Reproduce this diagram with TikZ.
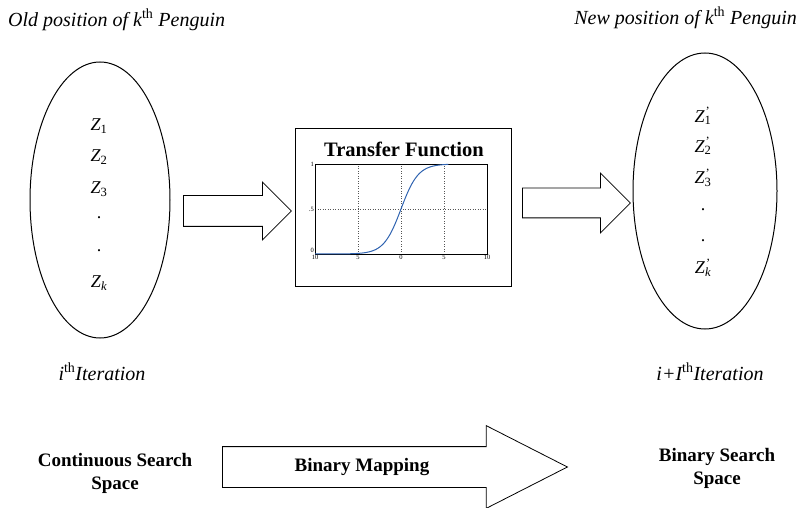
\documentclass[tikz,border=0pt]{standalone}
\usepackage{fontspec}
\setmainfont{Liberation Serif}
\usetikzlibrary{positioning, shapes.geometric, shapes.arrows}
\definecolor{curveblue}{HTML}{2f63b0}
\definecolor{gridgrey}{HTML}{555555}

\begin{document}
\begin{tikzpicture}[
  x=1pt, y=-1pt,
  caption/.style={font=\fontsize{20}{24}\selectfont\itshape, inner sep=0pt},
  heading/.style={font=\fontsize{19}{23}\selectfont\bfseries, align=center,
                  inner sep=0pt},
  zlab/.style={font=\fontsize{18}{20}\selectfont, inner sep=0pt},
  space/.style={ellipse, draw, line width=1pt, minimum width=140pt,
                minimum height=276pt, inner sep=0pt},
  blockarrow/.style={single arrow, draw, line width=0.8pt, inner xsep=0pt,
                     single arrow tip angle=90, anchor=tail},
  tick/.style={font=\fontsize{6.5}{7}\selectfont, inner sep=1pt}
]
\useasboundingbox (0,0) rectangle (804,508);

% Old and new positions
\node[caption, anchor=west] (oldpos) at (8,20)
  {Old position of k\textsuperscript{\upshape th} Penguin};
\node[caption, anchor=east] (newpos) at (797,18)
  {New position of k\textsuperscript{\upshape th} Penguin};

\node[space] (oldspace) at (100,200) {};
\node[space, minimum width=144pt] (newspace) at (705,191) {};

% Components before the mapping
\node[zlab] (z1) at (99,126) {\textit{Z}\textsubscript{1}};
\node[zlab] (z2) at (99,157) {\textit{Z}\textsubscript{2}};
\node[zlab] (z3) at (99,189) {\textit{Z}\textsubscript{3}};
\node[zlab] (zd1) at (99,218) {.};
\node[zlab] (zd2) at (99,251) {.};
\node[zlab] (zk) at (99,283) {\textit{Z}\textsubscript{\itshape k}};

% Components after the mapping
\node[zlab] (nz1) at (703,116) {\textit{Z}\rlap{\textsuperscript{\kern1pt'}}\textsubscript{1}};
\node[zlab] (nz2) at (703,146) {\textit{Z}\rlap{\textsuperscript{\kern1pt'}}\textsubscript{2}};
\node[zlab] (nz3) at (703,178) {\textit{Z}\rlap{\textsuperscript{\kern1pt'}}\textsubscript{3}};
\node[zlab] (nzd1) at (703,210) {.};
\node[zlab] (nzd2) at (703,241) {.};
\node[zlab] (nzk) at (703,268) {\textit{Z}\rlap{\textsuperscript{\kern1pt'}}\textsubscript{\itshape k}};

\node[caption] (iterold) at (102,372)
  {i\textsuperscript{\upshape th}Iteration};
\node[caption] (iternew) at (710,372)
  {i+I\textsuperscript{\upshape th}Iteration};

% Transfer function box
\node[draw, line width=1pt, minimum width=216pt, minimum height=157pt,
      inner sep=0pt] (tf) at (403,207.5) {};
\node[font=\fontsize{20.5}{24}\selectfont\bfseries, inner sep=0pt] (tftitle)
  at (404,149) {Transfer Function};

\begin{scope}[shift={(401,254)}, x=8.6pt, y=90pt]
  \draw[gridgrey, dotted, line width=0.5pt] (-5,0) -- (-5,1) (0,0) -- (0,1)
    (5,0) -- (5,1) (-10,0.5) -- (10,0.5);
  \draw[line width=0.6pt] (-10,0) rectangle (10,1);
  \draw[curveblue, line width=1pt] plot[domain=-10:5.5, samples=90, smooth]
    (\x, {0.5*(1+tanh(\x/2))});
  \node[tick, left] (ty1) at (-10,1) {1};
  \node[tick, left] (ty5) at (-10,0.5) {.5};
  \node[tick, anchor=south east] (ty0) at (-10,0) {0};
  \node[tick, anchor=north] (tx1) at (-10,0) {10};
  \node[tick, below] (tx2) at (-5,0) {5};
  \node[tick, below] (tx3) at (0,0) {0};
  \node[tick, below] (tx4) at (5,0) {5};
  \node[tick, below] (tx5) at (10,0) {10};
\end{scope}

% Block arrows
\node[blockarrow, minimum height=108pt, inner ysep=15pt,
      single arrow head extend=13.5pt] (arrin) at (183,211) {};
\node[blockarrow, minimum height=108pt, inner ysep=14.5pt,
      single arrow head extend=15pt] (arrout) at (522,203) {};

% Search spaces
\node[heading] (contspace) at (115,473) {Continuous Search\\Space};
\node[heading] (binspace) at (717,468) {Binary Search\\Space};
\node[blockarrow, minimum height=345pt, inner ysep=20pt,
      single arrow head extend=21pt, single arrow tip angle=54] (binmap)
  at (222,467) {};
\node[heading] (binmaplab) at (362,467) {Binary Mapping};

\end{tikzpicture}
\end{document}
